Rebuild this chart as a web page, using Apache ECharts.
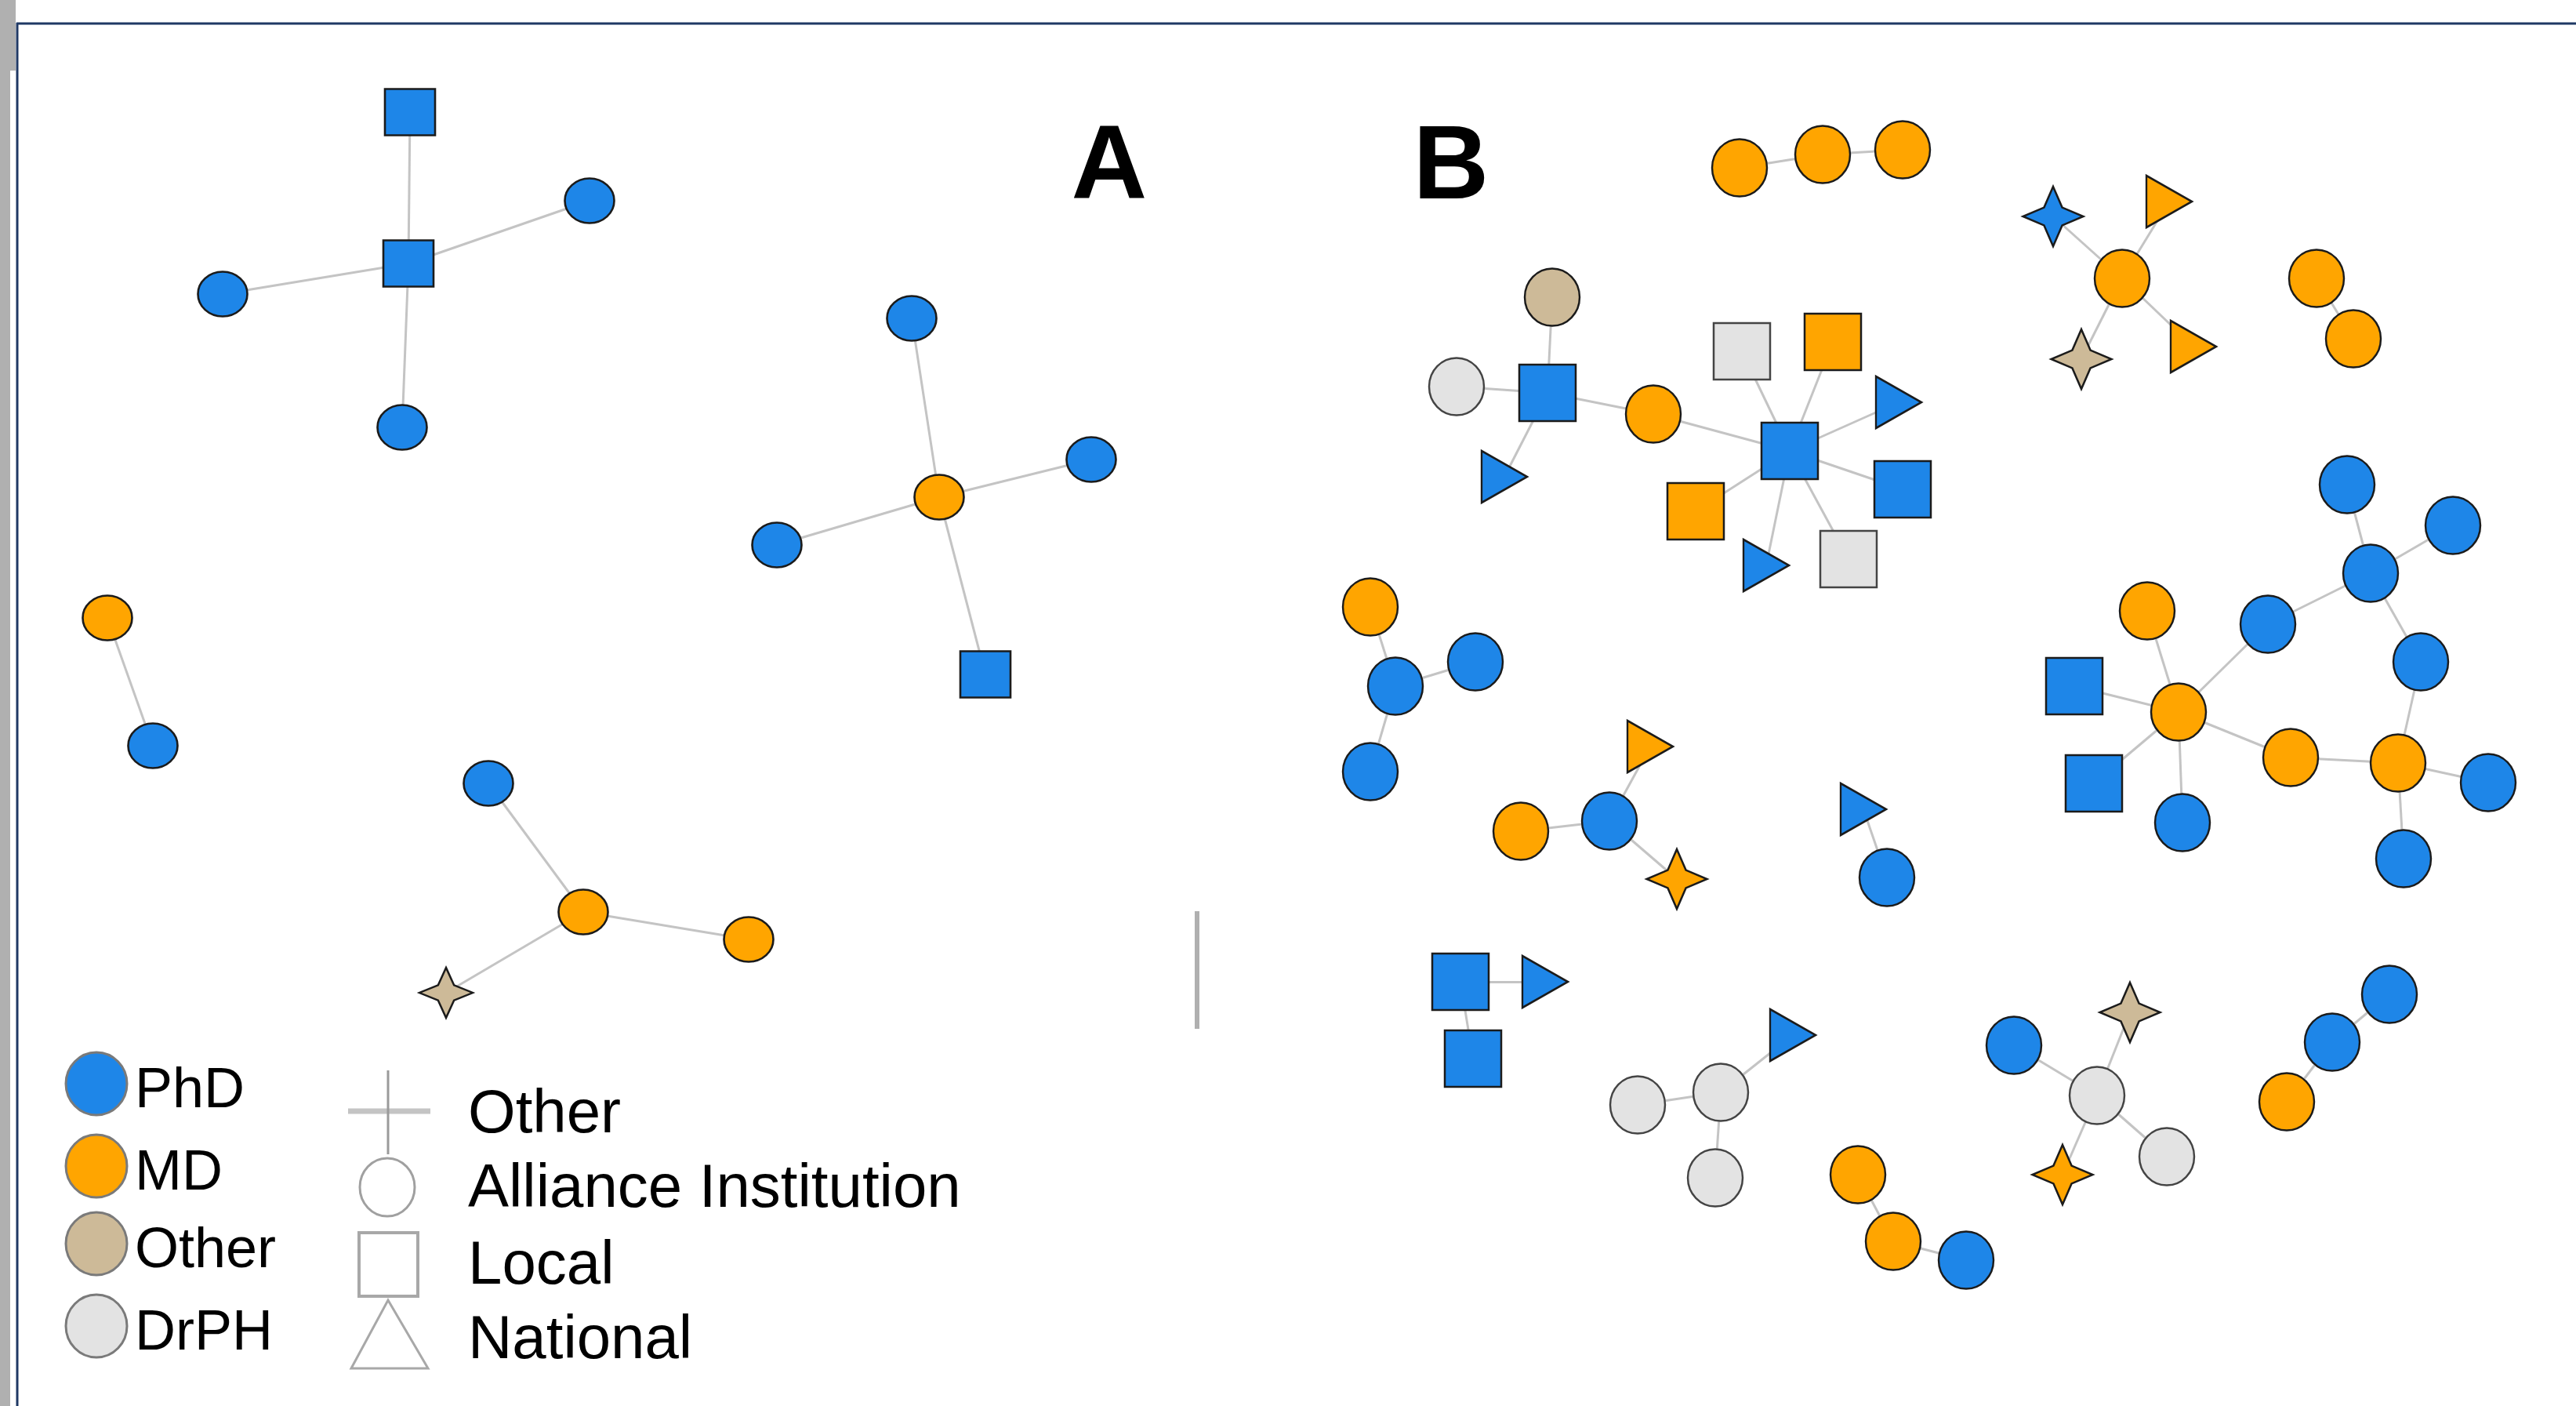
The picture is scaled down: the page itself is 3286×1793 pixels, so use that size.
<!DOCTYPE html>
<html>
<head>
<meta charset="utf-8">
<script src="https://cdn.jsdelivr.net/npm/echarts@6/dist/echarts.min.js"></script>
<style>
html,body{margin:0;padding:0;background:#fff;}
#chart{width:3286px;height:1793px;}
</style>
</head>
<body>
<div id="chart"></div>
<script>
// ---- DATA ----
// node: [layoutX, layoutY, degree, institution]
const panelANodes = [
  [523,143,'PhD','Local'], [521,336,'PhD','Local'], [752,256,'PhD','Alliance'],
  [284,375,'PhD','Alliance'], [513,545,'PhD','Alliance'],
  [1198,634,'MD','Alliance'], [1163,406,'PhD','Alliance'], [1392,586,'PhD','Alliance'],
  [991,695,'PhD','Alliance'], [1257,860,'PhD','Local'],
  [137,788,'MD','Alliance'], [195,951,'PhD','Alliance'],
  [623,999,'PhD','Alliance'], [744,1163,'MD','Alliance'], [955,1198,'MD','Alliance'],
  [569,1266,'Other','Other']
];
const panelALinks = [[1,0],[1,2],[1,3],[1,4],[5,6],[5,7],[5,8],[5,9],[10,11],[13,12],[13,14],[13,15]];

const panelBNodes = [
  [2219,214,'MD','Alliance'], [2325,197,'MD','Alliance'], [2427,191,'MD','Alliance'],
  [2619,276,'PhD','Other'], [2767,257,'MD','National'], [2707,355,'MD','Alliance'],
  [2655,458,'Other','Other'], [2798,442,'MD','National'],
  [2955,355,'MD','Alliance'], [3002,432,'MD','Alliance'],
  [1980,379,'Other','Alliance'], [1858,493,'DrPH','Alliance'], [1974,501,'PhD','Local'],
  [1919,608,'PhD','National'], [2109,528,'MD','Alliance'], [2283,575,'PhD','Local'],
  [2222,448,'DrPH','Local'], [2338,436,'MD','Local'], [2422,513,'PhD','National'],
  [2427,624,'PhD','Local'], [2163,652,'MD','Local'], [2253,721,'PhD','National'],
  [2358,713,'DrPH','Local'],
  [1748,774,'MD','Alliance'], [1780,875,'PhD','Alliance'], [1882,844,'PhD','Alliance'],
  [1748,984,'PhD','Alliance'],
  [2105,952,'MD','National'], [1940,1060,'MD','Alliance'], [2053,1047,'PhD','Alliance'],
  [2139,1121,'MD','Other'],
  [2377,1032,'PhD','National'], [2407,1119,'PhD','Alliance'],
  [2994,618,'PhD','Alliance'], [3129,670,'PhD','Alliance'], [3024,731,'PhD','Alliance'],
  [2893,796,'PhD','Alliance'], [2739,779,'MD','Alliance'], [3088,844,'PhD','Alliance'],
  [2646,875,'PhD','Local'], [2779,908,'MD','Alliance'], [2671,999,'PhD','Local'],
  [2922,966,'MD','Alliance'], [3059,973,'MD','Alliance'], [3174,998,'PhD','Alliance'],
  [2784,1049,'PhD','Alliance'], [3066,1095,'PhD','Alliance'],
  [1863,1252,'PhD','Local'], [1971,1252,'PhD','National'], [1879,1350,'PhD','Local'],
  [2287,1320,'PhD','National'], [2195,1393,'DrPH','Alliance'], [2089,1409,'DrPH','Alliance'],
  [2188,1502,'DrPH','Alliance'],
  [2370,1498,'MD','Alliance'], [2415,1583,'MD','Alliance'], [2508,1607,'PhD','Alliance'],
  [2569,1333,'PhD','Alliance'], [2717,1291,'Other','Other'], [2675,1397,'DrPH','Alliance'],
  [2631,1498,'MD','Other'], [2764,1475,'DrPH','Alliance'],
  [3048,1268,'PhD','Alliance'], [2975,1329,'PhD','Alliance'], [2917,1405,'MD','Alliance']
];
const panelBLinks = [
  [0,1],[1,2],
  [5,3],[5,4],[5,6],[5,7],
  [8,9],
  [12,10],[12,11],[12,13],[12,14],[14,15],
  [15,16],[15,17],[15,18],[15,19],[15,20],[15,21],[15,22],
  [24,23],[24,25],[24,26],
  [29,28],[29,27],[29,30],
  [31,32],
  [33,35],[34,35],[35,36],[35,38],[36,40],[37,40],[39,40],[41,40],[40,45],[40,42],[42,43],[38,43],[43,44],[43,46],
  [47,48],[47,49],
  [51,50],[51,52],[51,53],
  [54,55],[55,56],
  [59,57],[59,58],[59,60],[59,61],
  [62,63],[63,64]
];
const degreeLabels = ['PhD','MD','Other','DrPH'];
const institutionLabels = ['Other','Alliance Institution','Local','National'];
const panelLabels = ['A','B'];

// ---- STYLE ----
const degreeColor = {PhD:'#1E86E8', MD:'#FFA500', Other:'#CDBA98', DrPH:'#E3E3E3'};
const ELLIPSE = 'path://M0,50A50,50,0,1,1,100,50A50,50,0,1,1,0,50Z';
const TRI = 'path://M0,0L100,50L0,100Z';
const STAR = 'path://M50,0L65,35L100,50L65,65L50,100L35,65L0,50L35,35Z';
const shapeOf = {Alliance:ELLIPSE, Local:'rect', National:TRI, Other:STAR};
const sizeA = {Alliance:[63,57], Local:[64,59], National:[56,66], Other:[68,64]};
const sizeB = {Alliance:[70,73], Local:[72,72], National:[58,66], Other:[77,76]};

function buildNodes(list, sizes, offset){
  return list.map((n,i)=>({
    name: 'n'+(offset+i),
    value: [n[0], n[1]],
    symbol: shapeOf[n[3]],
    symbolSize: sizes[n[3]],
    itemStyle: {
      color: degreeColor[n[2]],
      borderColor: n[2]==='DrPH' ? '#444' : '#1b1b1b',
      borderWidth: 2.5
    }
  }));
}
const nodes = buildNodes(panelANodes, sizeA, 0).concat(buildNodes(panelBNodes, sizeB, panelANodes.length));
const links = panelALinks.map(l=>({source:l[0], target:l[1]}))
  .concat(panelBLinks.map(l=>({source:l[0]+panelANodes.length, target:l[1]+panelANodes.length})));

const chart = echarts.init(document.getElementById('chart'));
const font = '"Liberation Sans", Arial, sans-serif';
const legendText = (txt, x, y, fs) => ({type:'text', x:x, y:y, style:{text:txt, fill:'#000', font:fs+'px '+font, textVerticalAlign:'middle', textAlign:'left'}});
const degY = [1382,1487,1586,1691];
const graphics = [
  {type:'rect', shape:{x:0,y:0,width:20,height:90}, style:{fill:'#b0b0b0'}},
  {type:'rect', shape:{x:0,y:90,width:13,height:1703}, style:{fill:'#b0b0b0'}},
  {type:'line', shape:{x1:21,y1:30,x2:3286,y2:30}, style:{stroke:'#1f3864', lineWidth:3}},
  {type:'line', shape:{x1:22,y1:29,x2:22,y2:1793}, style:{stroke:'#1f3864', lineWidth:3}},
  {type:'line', shape:{x1:1527,y1:1162,x2:1527,y2:1312}, style:{stroke:'#b0b0b0', lineWidth:6}},
  {type:'text', x:1415, y:216, style:{text:panelLabels[0], fill:'#000', font:'bold 134px '+font, textAlign:'center', textVerticalAlign:'middle'}},
  {type:'text', x:1851, y:216, style:{text:panelLabels[1], fill:'#000', font:'bold 134px '+font, textAlign:'center', textVerticalAlign:'middle'}}
];
degreeLabels.forEach((d,i)=>{
  graphics.push({type:'ellipse', shape:{cx:123, cy:degY[i], rx:39, ry:40}, style:{fill:degreeColor[d], stroke:'#7a7a7a', lineWidth:3}});
  graphics.push(legendText(d, 172, degY[i]+10, 72));
});
graphics.push(
  {type:'line', shape:{x1:444,y1:1417,x2:549,y2:1417}, style:{stroke:'#c4c4c4', lineWidth:7}},
  {type:'line', shape:{x1:495,y1:1365,x2:495,y2:1472}, style:{stroke:'#9a9a9a', lineWidth:3}},
  {type:'ellipse', shape:{cx:494, cy:1514, rx:35, ry:37}, style:{fill:'#fff', stroke:'#a0a0a0', lineWidth:3}},
  {type:'rect', shape:{x:458, y:1572, width:75, height:81}, style:{fill:'#fff', stroke:'#a8a8a8', lineWidth:4}},
  {type:'polygon', shape:{points:[[495,1658],[546,1745],[448,1745]]}, style:{fill:'#fff', stroke:'#a8a8a8', lineWidth:3}}
);
const instY = [1415,1510,1608,1703];
institutionLabels.forEach((t,i)=>graphics.push(legendText(t, 597, instY[i]+7, 78)));

chart.setOption({
  animation:false,
  backgroundColor:'#fff',
  grid:{left:0,right:0,top:0,bottom:0},
  xAxis:{type:'value', min:0, max:3286, show:false},
  yAxis:{type:'value', min:0, max:1793, inverse:true, show:false},
  series:[{
    type:'graph',
    coordinateSystem:'cartesian2d',
    layout:'none',
    data:nodes,
    links:links,
    label:{show:false},
    lineStyle:{color:'#c4c4c4', width:3, opacity:1, curveness:0},
    emphasis:{disabled:true}
  }],
  graphic:graphics
});
</script>
</body>
</html>
